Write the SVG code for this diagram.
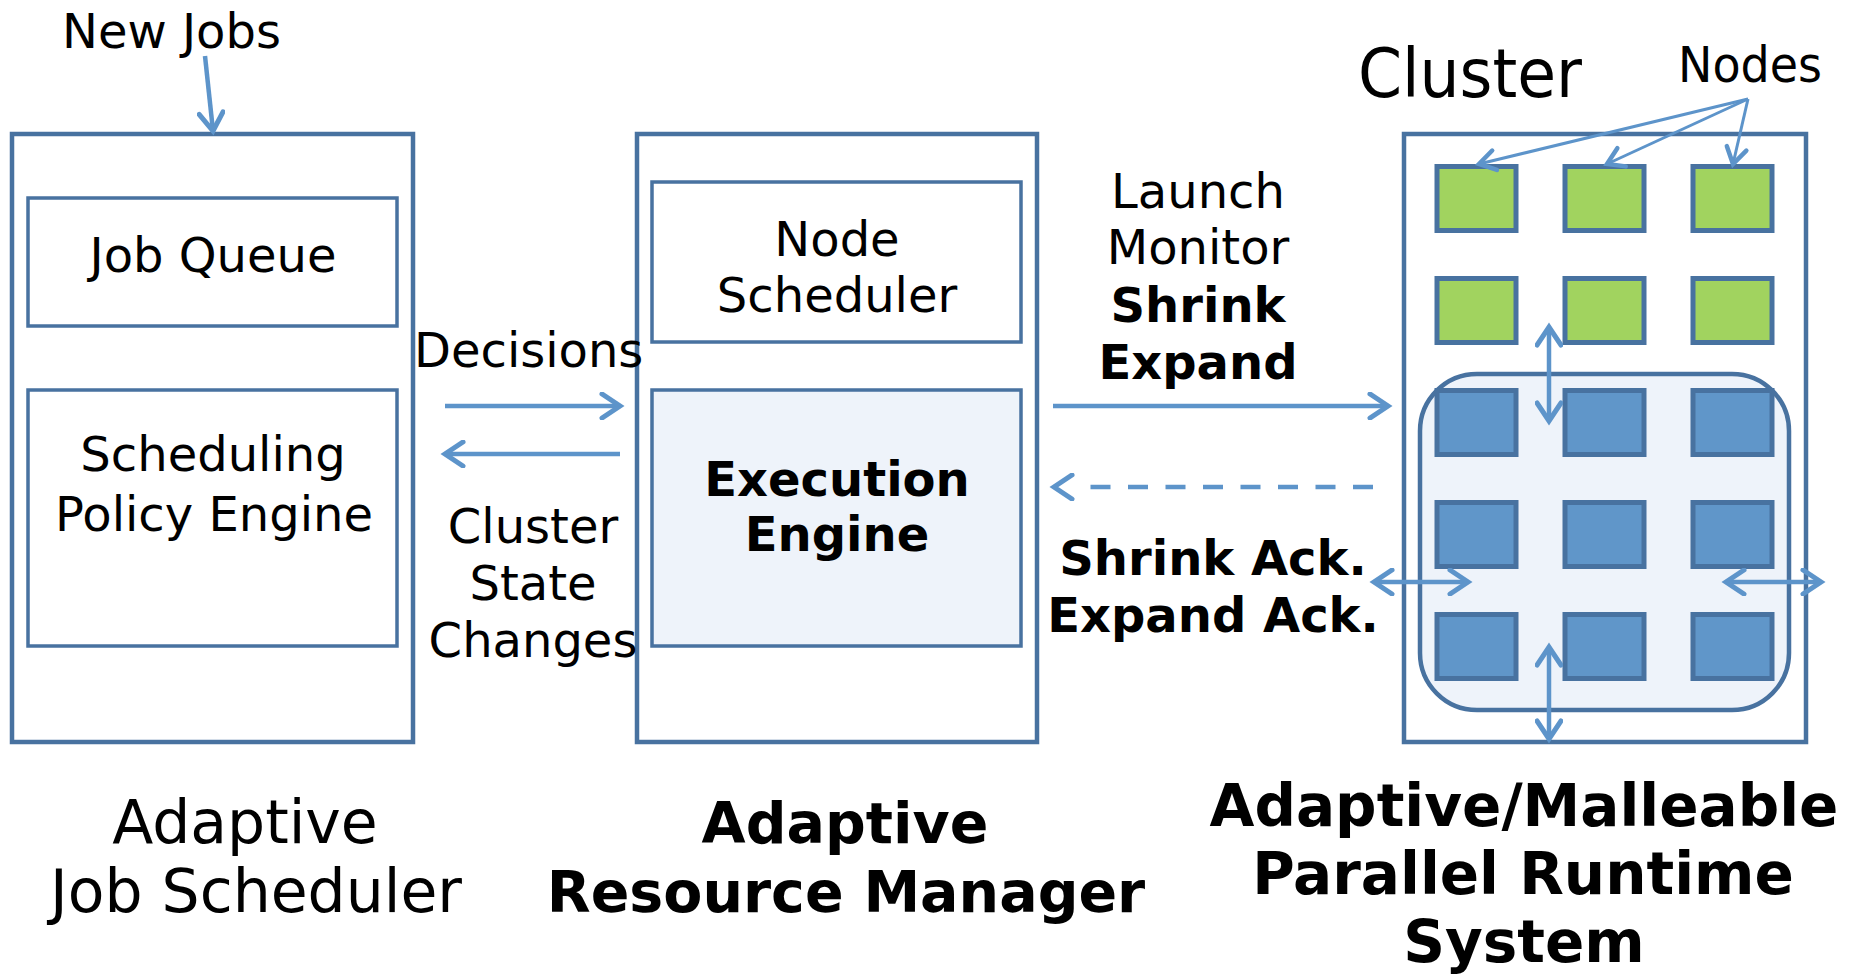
<svg xmlns="http://www.w3.org/2000/svg" width="1856" height="975" viewBox="0 0 1856 975">
  <style>
    text { font-family: "DejaVu Sans", Verdana, sans-serif; fill: #000; }
    .t48 { font-size: 48px; }
    .b48 { font-size: 48px; font-weight: bold; }
    .t60 { font-size: 60px; }
    .b57 { font-size: 57px; font-weight: bold; }
    .b58 { font-size: 58px; font-weight: bold; }
    .mid { text-anchor: middle; }
    .outer { fill: #fff; stroke: #4872A0; stroke-width: 4.5; }
    .inner { fill: #fff; stroke: #4872A0; stroke-width: 3.5; }
    .engine { fill: #EEF3FA; stroke: #4872A0; stroke-width: 3.5; }
    .pool { fill: #EEF3FA; stroke: #4872A0; stroke-width: 4.5; }
    .idle { fill: #A1D35F; stroke: #4872A0; stroke-width: 5; }
    .busy { fill: #6096C9; stroke: #4872A0; stroke-width: 5; }
    .link { fill: none; stroke: #5D94CA; stroke-width: 4.5; }
    .thin { fill: none; stroke: #5D94CA; stroke-width: 3; }
  </style>
  <defs>
    <marker id="head" markerUnits="userSpaceOnUse" markerWidth="28" markerHeight="28" viewBox="0 0 28 28" refX="23" refY="14" orient="auto-start-reverse">
      <path d="M5,2 L23,14 L5,26" fill="none" stroke="#5D94CA" stroke-width="5" stroke-linecap="round" stroke-linejoin="miter"/>
    </marker>
    <marker id="headS" markerUnits="userSpaceOnUse" markerWidth="26" markerHeight="26" viewBox="0 0 26 26" refX="22" refY="13" orient="auto">
      <path d="M6,3 L22,13 L6,23" fill="none" stroke="#5D94CA" stroke-width="4.5" stroke-linecap="round"/>
    </marker>
  </defs>

  <rect width="1856" height="975" fill="#fff"/>

  <!-- Adaptive Job Scheduler -->
  <g id="job-scheduler">
    <rect class="outer" x="12" y="134" width="401" height="608"/>
    <g id="job-queue">
      <rect class="inner" x="28" y="198" width="369" height="128"/>
      <text class="t48 mid" x="213" y="272">Job Queue</text>
    </g>
    <g id="policy-engine">
      <rect class="inner" x="28" y="390" width="369" height="256"/>
      <text class="t48 mid" x="213" y="471">Scheduling</text>
      <text class="t48 mid" x="214" y="531">Policy Engine</text>
    </g>
    <text class="t60 mid" x="245" y="843">Adaptive</text>
    <text class="t60 mid" x="256" y="912">Job Scheduler</text>
  </g>

  <!-- Adaptive Resource Manager -->
  <g id="resource-manager">
    <rect class="outer" x="637" y="134" width="400" height="608"/>
    <g id="node-scheduler">
      <rect class="inner" x="652" y="182" width="369" height="160"/>
      <text class="t48 mid" x="837" y="256">Node</text>
      <text class="t48 mid" x="837" y="312">Scheduler</text>
    </g>
    <g id="execution-engine">
      <rect class="engine" x="652" y="390" width="369" height="256"/>
      <text class="b48 mid" x="837" y="496">Execution</text>
      <text class="b48 mid" x="837" y="551">Engine</text>
    </g>
    <text class="b57 mid" x="845" y="843">Adaptive</text>
    <text class="b57 mid" x="846" y="912">Resource Manager</text>
  </g>

  <!-- Cluster / malleable runtime -->
  <g id="cluster">
    <rect class="outer" x="1404" y="134" width="402" height="608"/>
    <rect class="pool" x="1420" y="374" width="369" height="336" rx="57" ry="57"/>
    <g id="idle-nodes">
      <rect class="idle" x="1437" y="166.5" width="79" height="64"/>
      <rect class="idle" x="1565" y="166.5" width="79" height="64"/>
      <rect class="idle" x="1693" y="166.5" width="79" height="64"/>
      <rect class="idle" x="1437" y="278.5" width="79" height="64"/>
      <rect class="idle" x="1565" y="278.5" width="79" height="64"/>
      <rect class="idle" x="1693" y="278.5" width="79" height="64"/>
    </g>
    <g id="job-nodes">
      <rect class="busy" x="1437" y="390.5" width="79" height="64"/>
      <rect class="busy" x="1565" y="390.5" width="79" height="64"/>
      <rect class="busy" x="1693" y="390.5" width="79" height="64"/>
      <rect class="busy" x="1437" y="502.5" width="79" height="64"/>
      <rect class="busy" x="1565" y="502.5" width="79" height="64"/>
      <rect class="busy" x="1693" y="502.5" width="79" height="64"/>
      <rect class="busy" x="1437" y="614.5" width="79" height="64"/>
      <rect class="busy" x="1565" y="614.5" width="79" height="64"/>
      <rect class="busy" x="1693" y="614.5" width="79" height="64"/>
    </g>
    <text class="mid" x="1470" y="97" font-size="67" textLength="224" lengthAdjust="spacingAndGlyphs">Cluster</text>
    <text x="1678" y="82" font-size="50" textLength="144" lengthAdjust="spacingAndGlyphs">Nodes</text>
    <text class="b58 mid" x="1524" y="826">Adaptive/Malleable</text>
    <text class="b58 mid" x="1523" y="894">Parallel Runtime</text>
    <text class="b58 mid" x="1524" y="962">System</text>
  </g>

  <!-- Edge labels -->
  <g id="labels">
    <text class="t48" x="62" y="48">New Jobs</text>
    <text class="t48" x="414" y="367">Decisions</text>
    <text class="t48 mid" x="533" y="543">Cluster</text>
    <text class="t48 mid" x="533" y="600">State</text>
    <text class="t48 mid" x="533" y="657">Changes</text>
    <text class="t48 mid" x="1198" y="208">Launch</text>
    <text class="t48 mid" x="1198" y="264">Monitor</text>
    <text class="b48 mid" x="1198" y="322">Shrink</text>
    <text class="b48 mid" x="1198" y="379">Expand</text>
    <text class="b48 mid" x="1213" y="575">Shrink Ack.</text>
    <text class="b48 mid" x="1213" y="632">Expand Ack.</text>
  </g>

  <!-- Connectors -->
  <g id="connectors">
    <path class="link" d="M205,56 L213,131" marker-end="url(#head)"/>
    <path class="link" d="M445,406 L620,406" marker-end="url(#head)"/>
    <path class="link" d="M620,454 L445,454" marker-end="url(#head)"/>
    <path class="link" d="M1053,406 L1388,406" marker-end="url(#head)"/>
    <path class="link" d="M1373,487 L1054,487" stroke-dasharray="20 17.5 20 17.5 20 17.5 20 17.5 20 17.5 20 17.5 20 17.5 20 80" marker-end="url(#head)"/>
    <path class="link" d="M1549,327 L1549,421" marker-start="url(#head)" marker-end="url(#head)"/>
    <path class="link" d="M1549,647 L1549,739" marker-start="url(#head)" marker-end="url(#head)"/>
    <path class="link" d="M1374,582 L1468,582" marker-start="url(#head)" marker-end="url(#head)"/>
    <path class="link" d="M1726,582 L1821,582" marker-start="url(#head)" marker-end="url(#head)"/>
    <path class="thin" d="M1748,99 L1479,164" marker-end="url(#headS)"/>
    <path class="thin" d="M1748,99 L1607,164" marker-end="url(#headS)"/>
    <path class="thin" d="M1748,99 L1733,164" marker-end="url(#headS)"/>
  </g>
</svg>
